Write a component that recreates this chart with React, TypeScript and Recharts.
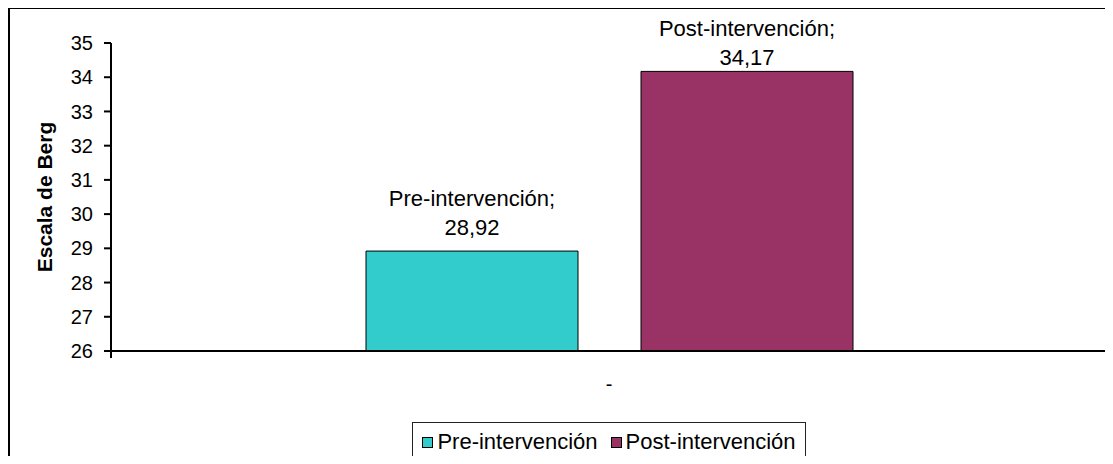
import React from 'react'
import { BarChart, Bar, XAxis, YAxis, Legend, LabelList } from 'recharts'

// one category, two series (Berg balance scale, before / after)
const categories = ['-']
const seriesNames = ['Pre-intervención', 'Post-intervención']
const preValues = [28.92]
const postValues = [34.17]
const seriesColors = ['#33CCCC', '#993366']
const yTicks = [26, 27, 28, 29, 30, 31, 32, 33, 34, 35]
const yTitle = 'Escala de Berg'

const data = categories.map((name, i) => ({ name, pre: preValues[i], post: postValues[i] }))

const FONT = '"Liberation Sans", Arial, Helvetica, sans-serif'
const W = 1113
const H = 464
const MARGIN = { top: 43, right: 6, bottom: 2, left: 51 }
const Y_AXIS_WIDTH = 60
const PLOT_WIDTH = W - MARGIN.left - MARGIN.right - Y_AXIS_WIDTH
const X_TICK_LEN = 7
const X_TICK_MARGIN = 26
const LABEL_LINE = 29
const LABEL_GAP = 16
const LABEL_MIN_BASELINE = 65

function fmt(v: number) {
    return Number(v).toFixed(2).replace('.', ',')
}

// category label plus the tick marks sitting on both edges of its band
function CategoryTick(props: any) {
    const { x, y, payload } = props
    const half = PLOT_WIDTH / categories.length / 2
    const axisY = y - X_TICK_MARGIN
    return (
        <g>
            <line x1={x - half} x2={x - half} y1={axisY} y2={axisY + X_TICK_LEN} stroke="#000" strokeWidth={2} />
            <line x1={x + half} x2={x + half} y1={axisY} y2={axisY + X_TICK_LEN} stroke="#000" strokeWidth={2} />
            <text x={x} y={y} dy="0.71em" textAnchor="middle" fontSize={20} fontFamily={FONT} fill="#000">
                {payload.value}
            </text>
        </g>
    )
}

const makeBarLabel = (name: string) => (props: any) => {
    const { x, y, width, value } = props
    const cx = x + width / 2
    const base = Math.max(y - LABEL_GAP, LABEL_MIN_BASELINE)
    return (
        <text textAnchor="middle" fontSize={22} fontFamily={FONT} fill="#000">
            <tspan x={cx} y={base - LABEL_LINE}>{name};</tspan>
            <tspan x={cx} y={base}>{fmt(value)}</tspan>
        </text>
    )
}

// boxed legend, series kept in drawing order
function BoxLegend() {
    return (
        <div style={{ display: 'flex', justifyContent: 'center' }}>
            <div
                style={{
                    display: 'flex',
                    alignItems: 'center',
                    height: 38,
                    padding: '0 9px',
                    border: '1px solid #222',
                    fontFamily: FONT,
                    fontSize: 22,
                    color: '#000',
                    background: '#fff',
                }}
            >
                {seriesNames.map((name, i) => (
                    <span key={name} style={{ display: 'flex', alignItems: 'center', marginLeft: i ? 13 : 0 }}>
                        <span
                            style={{
                                display: 'inline-block',
                                width: 9,
                                height: 9,
                                background: seriesColors[i],
                                border: '1px solid #000',
                                marginRight: 4,
                            }}
                        />
                        {name}
                    </span>
                ))}
            </div>
        </div>
    )
}

export default function App() {
    return (
        <div
            style={{
                position: 'relative',
                width: W,
                height: H,
                margin: '-8px 0 -8px -8px',
                overflow: 'hidden',
                background: '#fff',
                fontFamily: FONT,
            }}
        >
            <div
                style={{
                    position: 'absolute',
                    left: 8,
                    top: 7,
                    width: 1110,
                    height: 462,
                    border: '2px solid #000',
                    pointerEvents: 'none',
                }}
            />
            <BarChart width={W} height={H} data={data} margin={MARGIN} barSize={212} barGap={63}>
                <XAxis
                    dataKey="name"
                    height={71}
                    axisLine={{ stroke: '#000', strokeWidth: 2 }}
                    tickLine={false}
                    tickSize={0}
                    tickMargin={X_TICK_MARGIN}
                    tick={<CategoryTick />}
                />
                <YAxis
                    width={Y_AXIS_WIDTH}
                    type="number"
                    domain={[26, 35]}
                    ticks={yTicks}
                    interval={0}
                    allowDataOverflow
                    axisLine={{ stroke: '#000', strokeWidth: 2 }}
                    tickLine={{ stroke: '#000', strokeWidth: 2 }}
                    tickSize={7}
                    tickMargin={11}
                    tick={{ fill: '#000', fontSize: 20, fontFamily: FONT }}
                    label={{
                        value: yTitle,
                        angle: -90,
                        position: 'insideLeft',
                        offset: -6,
                        style: { textAnchor: 'middle', fontWeight: 'bold', fontSize: 21, fontFamily: FONT, fill: '#000' },
                    }}
                />
                <Legend
                    verticalAlign="bottom"
                    align="center"
                    content={<BoxLegend />}
                    wrapperStyle={{ left: 111, width: 996 }}
                />
                <Bar dataKey="pre" name={seriesNames[0]} fill={seriesColors[0]} stroke="#000" strokeWidth={1} isAnimationActive={false}>
                    <LabelList dataKey="pre" content={makeBarLabel(seriesNames[0])} />
                </Bar>
                <Bar dataKey="post" name={seriesNames[1]} fill={seriesColors[1]} stroke="#000" strokeWidth={1} isAnimationActive={false}>
                    <LabelList dataKey="post" content={makeBarLabel(seriesNames[1])} />
                </Bar>
            </BarChart>
        </div>
    )
}
